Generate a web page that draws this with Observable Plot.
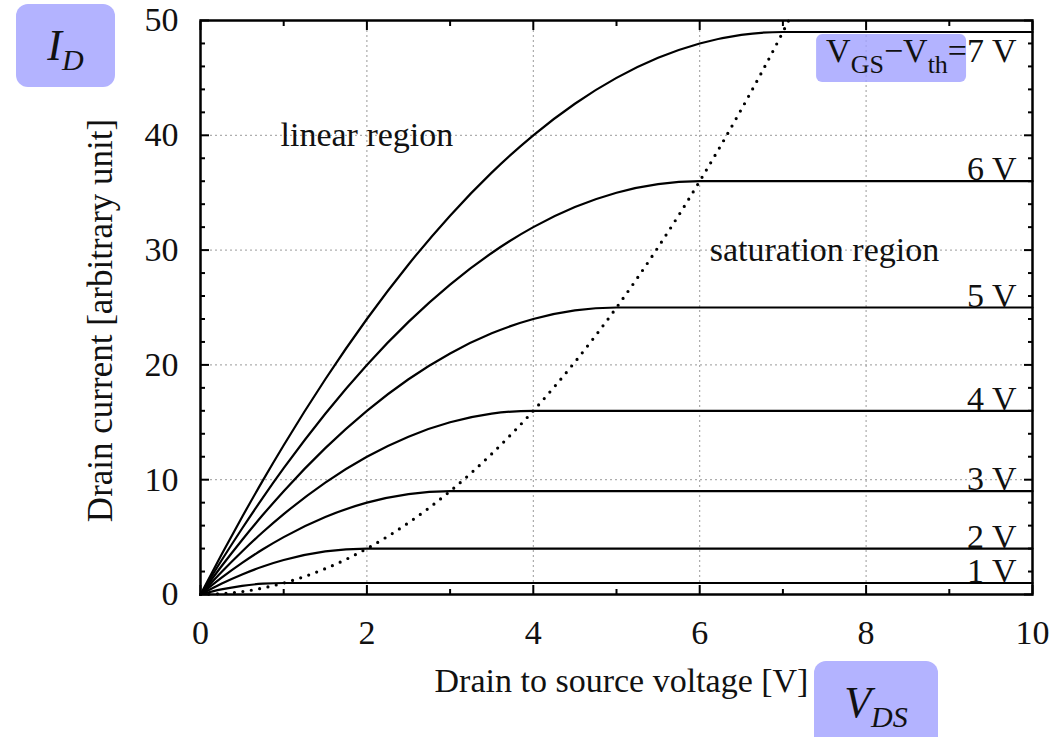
<!DOCTYPE html>
<html><head><meta charset="utf-8">
<script src="https://cdn.jsdelivr.net/npm/d3@7"></script>
<script src="https://cdn.jsdelivr.net/npm/@observablehq/plot@0.6"></script>
<style>
html,body{margin:0;padding:0;background:#fff;overflow:hidden}
#wrap{position:relative;width:1057px;height:737px;font-family:'Liberation Serif',serif}
.badge{position:absolute;background:#b3b3ff;border-radius:12px;font:italic 44px 'Liberation Serif',serif;text-align:center;line-height:83px;color:#111;white-space:nowrap}
.badge span{position:relative;top:10px;font-size:30px}
</style></head><body><div id="wrap"></div>
<script>
// ---- data ----
const vds = [0,0.25,0.5,0.75,1,1.5,2,2.5,3,3.5,4,4.5,5,5.5,6,6.5,7,8,9,10];
const overdrive = [1,2,3,4,5,6,7];
const id1 = [0,0.44,0.75,0.94,1,1,1,1,1,1,1,1,1,1,1,1,1,1,1,1];
const id2 = [0,0.94,1.75,2.44,3,3.75,4,4,4,4,4,4,4,4,4,4,4,4,4,4];
const id3 = [0,1.44,2.75,3.94,5,6.75,8,8.75,9,9,9,9,9,9,9,9,9,9,9,9];
const id4 = [0,1.94,3.75,5.44,7,9.75,12,13.75,15,15.75,16,16,16,16,16,16,16,16,16,16];
const id5 = [0,2.44,4.75,6.94,9,12.75,16,18.75,21,22.75,24,24.75,25,25,25,25,25,25,25,25];
const id6 = [0,2.94,5.75,8.44,11,15.75,20,23.75,27,29.75,32,33.75,35,35.75,36,36,36,36,36,36];
const id7 = [0,3.44,6.75,9.94,13,18.75,24,28.75,33,36.75,40,42.75,45,46.75,48,48.75,49,49,49,49];
const boundaryV = [0,0.5,1,1.5,2,2.5,3,3.5,4,4.5,5,5.5,6,6.5,7,7.07];
const boundaryI = [0,0.25,1,2.25,4,6.25,9,12.25,16,20.25,25,30.25,36,42.25,49,50];
const curveLabels = ["1 V","2 V","3 V","4 V","5 V","6 V","V_GS\u2212V_th=7 V"];
const regionText = ["linear region","saturation region"];
const regionX = [2, 7.5];
const regionY = [40, 30];
const xTicks = [0,2,4,6,8,10];
const xMinor = [1,3,5,7,9];
const yTicks = [0,10,20,30,40,50];
const yMinor = [2,4,6,8,12,14,16,18,22,24,26,28,32,34,36,38,42,44,46,48];
const xGrid = [2,4,6,8];
const yGrid = [10,20,30,40];
const xTitle = "Drain to source voltage [V]";
const yTitle = "Drain current [arbitrary unit]";

// ---- tables ----
const series = [id1,id2,id3,id4,id5,id6,id7];
const rows = series.flatMap((ys,k) => vds.map((v,i) => ({vds:v, id:ys[i], vov:overdrive[k]})));
const boundary = boundaryV.map((v,i) => ({vds:v, id:boundaryI[i]}));
const labels = overdrive.map((v,k) => ({x:10, y:series[k][series[k].length-1], text:curveLabels[k], top:k===overdrive.length-1}));
const regions = regionText.map((t,i) => ({x:regionX[i], y:regionY[i], text:t}));

const FS = 34;
const chart = Plot.plot({
  width:1057, height:737,
  marginLeft:200, marginRight:25, marginTop:20, marginBottom:143,
  x:{domain:[0,10]}, y:{domain:[0,50]},
  style:{fontFamily:"'Liberation Serif', serif", fontSize:FS+"px", background:"transparent", color:"#000"},
  marks:[
    Plot.gridX(xGrid, {stroke:"#9a9a9a", strokeOpacity:1, strokeWidth:1, strokeDasharray:"2,3"}),
    Plot.gridY(yGrid, {stroke:"#9a9a9a", strokeOpacity:1, strokeWidth:1, strokeDasharray:"2,3"}),
    Plot.text(regions, {x:"x", y:"y", text:"text", fontSize:FS, fill:"#111"}),
    Plot.line(boundary, {x:"vds", y:"id", curve:"monotone-x", stroke:"#000", strokeWidth:3.2, strokeDasharray:"0,8.5", strokeLinecap:"round"}),
    Plot.line(rows, {x:"vds", y:"id", z:"vov", curve:"monotone-x", stroke:"#000", strokeWidth:2.2}),
    Plot.text(labels.filter(d => !d.top), {x:"x", y:"y", text:"text", textAnchor:"end", lineAnchor:"bottom", dx:-16, dy:-1, fontSize:FS, fill:"#111"}),
    Plot.text(labels.filter(d => d.top), {x:"x", y:"y", text:"text", textAnchor:"end", lineAnchor:"top", dx:-16, dy:6, fontSize:FS, fill:"#111"}),
    // axes: labels
    Plot.axisX(xTicks, {anchor:"bottom", tickSize:0, tickPadding:25, fontSize:FS, label:null, fill:"#111"}),
    Plot.axisY(yTicks, {anchor:"left", tickSize:0, tickPadding:22, fontSize:FS, label:null, fill:"#111"}),
    // inward ticks
    Plot.axisX(xTicks, {anchor:"bottom", tickSize:-9, strokeWidth:2, fill:"none", label:null}),
    Plot.axisX(xMinor, {anchor:"bottom", tickSize:-5, strokeWidth:2, fill:"none", label:null}),
    Plot.axisX(xTicks, {anchor:"top", tickSize:-9, strokeWidth:2, fill:"none", label:null}),
    Plot.axisX(xMinor, {anchor:"top", tickSize:-5, strokeWidth:2, fill:"none", label:null}),
    Plot.axisY(yTicks, {anchor:"left", tickSize:-9, strokeWidth:2, fill:"none", label:null}),
    Plot.axisY(yMinor, {anchor:"left", tickSize:-5, strokeWidth:2, fill:"none", label:null}),
    Plot.axisY(yTicks, {anchor:"right", tickSize:-9, strokeWidth:2, fill:"none", label:null}),
    Plot.axisY(yMinor, {anchor:"right", tickSize:-5, strokeWidth:2, fill:"none", label:null}),
    Plot.frame({stroke:"#000", strokeWidth:2.5}),
    // axis titles
    Plot.text([xTitle], {frameAnchor:"bottom", text:d => d, textAnchor:"middle", lineAnchor:"middle", dx:5, dy:87, fontSize:FS, fill:"#111"}),
    Plot.text([yTitle], {frameAnchor:"left", text:d => d, rotate:-90, textAnchor:"middle", lineAnchor:"middle", dx:-100, dy:13, fontSize:35, fill:"#111"})
  ]
});
const wrap = document.getElementById("wrap");
wrap.appendChild(chart);

// subscripts + highlight box for the V_GS−V_th label
const NS = "http://www.w3.org/2000/svg";
const t = Array.from(chart.querySelectorAll("text")).find(e => e.textContent.includes("V_GS"));
if (t) {
  t.textContent = "";
  const parts = [["V",0,null],["GS",11,26],["\u2212V",-11,null],["th",11,26],["=",-11,null],["7 V",0,null]];
  for (const [s,dy,fs] of parts) {
    const sp = document.createElementNS(NS, "tspan");
    sp.textContent = s;
    if (dy) sp.setAttribute("dy", dy);
    if (fs) sp.setAttribute("font-size", fs);
    t.appendChild(sp);
  }
  const bb = t.getBBox();
  const p7 = t.getStartPositionOfChar(8);
  const r = document.createElementNS(NS, "rect");
  r.setAttribute("x", bb.x - 10);
  r.setAttribute("y", bb.y + 2);
  r.setAttribute("width", p7.x - 1 - (bb.x - 10));
  r.setAttribute("height", bb.height + 1);
  r.setAttribute("rx", 6);
  r.setAttribute("fill", "#a0a0ff");
  r.setAttribute("fill-opacity", 0.8);
  if (t.getAttribute("transform")) r.setAttribute("transform", t.getAttribute("transform"));
  t.parentNode.insertBefore(r, t);
}

// I_D and V_DS badges
const b1 = document.createElement("div");
b1.className = "badge";
Object.assign(b1.style, {left:"16px", top:"4px", width:"99px", height:"83px"});
b1.innerHTML = "I<span>D</span>";
wrap.appendChild(b1);
const b2 = document.createElement("div");
b2.className = "badge";
Object.assign(b2.style, {left:"814px", top:"661px", width:"124px", height:"90px"});
b2.innerHTML = "V<span>DS</span>";
wrap.appendChild(b2);
</script></body></html>
